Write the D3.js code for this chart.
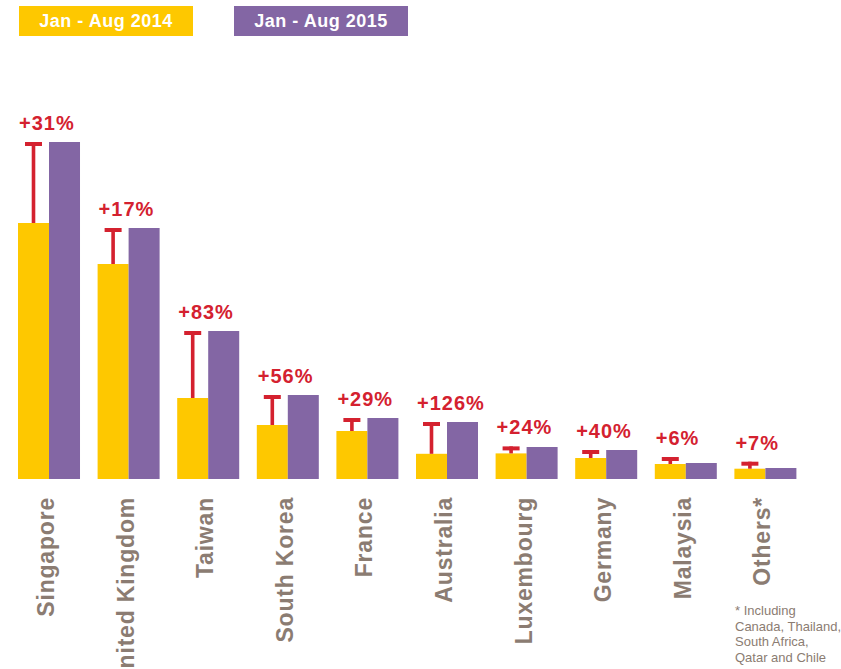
<!DOCTYPE html>
<html>
<head>
  <meta charset="utf-8">
  <script src="https://d3js.org/d3.v7.min.js"></script>
  <style>
    body { margin: 0; background: #fff; }
    svg { display: block; font-family: "Liberation Sans", Arial, Helvetica, sans-serif; }
  </style>
</head>
<body>
<script>
  // data (bar heights in chart units)
  var countries = ["Singapore", "United Kingdom", "Taiwan", "South Korea", "France",
                   "Australia", "Luxembourg", "Germany", "Malaysia", "Others*"];
  var values2014 = [256, 215, 81, 54, 48, 25.2, 25.6, 21, 15, 10.3];
  var values2015 = [337, 251, 148, 84, 61, 57, 32, 29, 16, 11];
  var growth = ["+31%", "+17%", "+83%", "+56%", "+29%", "+126%", "+24%", "+40%", "+6%", "+7%"];
  var seriesNames = ["Jan - Aug 2014", "Jan - Aug 2015"];
  var footnote = ["* Including", "Canada, Thailand,", "South Africa,", "Qatar and Chile"];

  var yellow = "#fec800", purple = "#8366a4", red = "#d4212f", grey = "#8b7c72";

  var width = 841, height = 669;
  var svg = d3.select("body").append("svg")
      .attr("width", width).attr("height", height);

  var x0 = d3.scaleBand().domain(countries).range([18, 796.4]).paddingInner(0.221).paddingOuter(0);
  var x1 = d3.scaleBand().domain([0, 1]).range([0, x0.bandwidth()]);
  var y = d3.scaleLinear().domain([0, 337]).range([479, 142]);

  // legend
  var legend = svg.append("g").selectAll("g")
      .data(seriesNames).enter().append("g");
  legend.append("rect")
      .attr("x", function(d, i) { return 19 + i * 215; })
      .attr("y", 6).attr("width", 174).attr("height", 30)
      .attr("fill", function(d, i) { return i ? purple : yellow; });
  legend.append("text")
      .attr("x", function(d, i) { return 106 + i * 215; })
      .attr("y", 27)
      .attr("text-anchor", "middle")
      .attr("fill", "#fff")
      .style("font-size", "18px").style("font-weight", "bold").style("letter-spacing", "0.5px")
      .text(function(d) { return d; });

  var rows = countries.map(function(c, i) {
    return { c: c, a: values2014[i], b: values2015[i], g: growth[i] };
  });

  var grp = svg.append("g").selectAll("g")
      .data(rows).enter().append("g")
      .attr("transform", function(d) { return "translate(" + x0(d.c) + ",0)"; });

  grp.append("rect")
      .attr("x", x1(0)).attr("width", x1.bandwidth())
      .attr("y", function(d) { return y(d.a); })
      .attr("height", function(d) { return y(0) - y(d.a); })
      .attr("fill", yellow);
  grp.append("rect")
      .attr("x", x1(1)).attr("width", x1.bandwidth())
      .attr("y", function(d) { return y(d.b); })
      .attr("height", function(d) { return y(0) - y(d.b); })
      .attr("fill", purple);

  function capTop(d) { return Math.min(y(d.b), y(d.a) - 7); }
  var cx = x1(0) + x1.bandwidth() / 2;

  // red "T" marker from 2014 bar up to 2015 level
  grp.append("rect")
      .attr("x", cx - 1.8).attr("width", 3.6)
      .attr("y", capTop)
      .attr("height", function(d) { return y(d.a) - capTop(d); })
      .attr("fill", red);
  grp.append("rect")
      .attr("x", cx - 8.5).attr("width", 17)
      .attr("y", capTop).attr("height", 4)
      .attr("fill", red);

  grp.append("text")
      .attr("x", 1)
      .attr("y", function(d) { return capTop(d) - 12; })
      .attr("fill", red)
      .style("font-size", "20px").style("font-weight", "bold").style("letter-spacing", "1px")
      .text(function(d) { return d.g; });

  // category labels, rotated
  grp.append("text")
      .attr("transform", "translate(" + (x0.bandwidth() / 2 + 5) + ",497) rotate(-90)")
      .attr("text-anchor", "end")
      .attr("fill", grey)
      .style("font-size", "23px").style("font-weight", "bold").style("letter-spacing", "0.8px")
      .text(function(d) { return d.c; });

  svg.append("text")
      .attr("x", 735).attr("fill", grey)
      .style("font-size", "13px")
      .selectAll("tspan").data(footnote).enter().append("tspan")
      .attr("x", 735)
      .attr("y", function(d, i) { return 615 + i * 15.6; })
      .text(function(d) { return d; });
</script>
</body>
</html>
